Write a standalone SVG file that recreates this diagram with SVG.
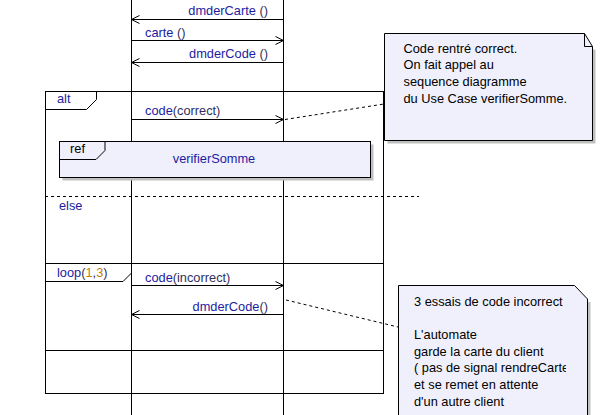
<svg xmlns="http://www.w3.org/2000/svg" width="611" height="415" viewBox="0 0 611 415">
<style>
text{font-family:"Liberation Sans",Arial,sans-serif;font-size:12.8px}
.n{fill:#1c1ca0}
.a{fill:#303060}
.o{fill:#c08000}
.k{fill:#000}
.ln{stroke:#000;stroke-width:1;fill:none}
.dash{stroke:#000;stroke-width:1;fill:none;stroke-dasharray:3,3}
.note{fill:#f0f0fc;stroke:#000;stroke-width:1}
.sh{fill:#c0c0c0}
</style>
<defs>
<marker id="ah" markerWidth="10" markerHeight="10" refX="9" refY="5" orient="auto" markerUnits="userSpaceOnUse">
<path d="M1,1 L9,5 L1,9" fill="none" stroke="#000" stroke-width="1"/>
</marker>
<clipPath id="c2"><rect x="398" y="285" width="168" height="130"/></clipPath>
</defs>
<rect width="611" height="415" fill="#fff"/>
<g id="lifelines">
<line class="ln" x1="131.5" y1="0" x2="131.5" y2="415"/>
<line class="ln" x1="283.5" y1="0" x2="283.5" y2="415"/>
</g>
<g id="alt">
<rect class="ln" x="45.5" y="91.5" width="338" height="302"/>
<path class="ln" d="M45.5,109.5 H86.5 L96.5,99.5 V91.5"/>
<text x="57" y="103" class="n">alt</text>
<path class="dash" d="M45,196.5 H419"/>
<text x="59" y="210" class="n">else</text>
</g>
<g id="ref">
<rect class="sh" x="62.5" y="144.5" width="311" height="36"/>
<rect class="note" x="59.5" y="141.5" width="311" height="36"/>
<path class="ln" d="M59.5,159.5 H96 L105,150.5 V141.5"/>
<text x="70" y="153" class="k">ref</text>
<text x="214" y="163" class="n" text-anchor="middle">verifierSomme</text>
</g>
<g id="loop">
<path class="ln" d="M45,263.5 H383.5 M45,350.5 H383.5"/>
<path class="ln" d="M45.5,281.5 H123 L131.5,273"/>
<text x="57" y="277"><tspan class="n">loop</tspan><tspan class="a">(</tspan><tspan class="o">1</tspan><tspan class="a">,</tspan><tspan class="o">3</tspan><tspan class="a">)</tspan></text>
</g>
<g id="note1">
<path class="sh" d="M387.5,143.5 V140.5 H592.5 V49.5 H595.5 V143.5 Z"/>
<path class="note" d="M384.5,33.5 H584.5 L592.5,46.5 V140.5 H384.5 Z"/>
<path class="ln" d="M584.5,33.5 V46.5 H592.5"/>
<text class="k" x="403.5"><tspan x="403.5" y="52.5">Code rentré correct.</tspan><tspan x="403.5" y="69.2">On fait appel au</tspan><tspan x="403.5" y="85.9">sequence diagramme</tspan><tspan x="403.5" y="102.6">du Use Case verifierSomme.</tspan></text>
</g>
<g id="note2">
<path class="sh" d="M587.5,302 H590.5 V415 H587.5 Z"/>
<path class="note" d="M398.5,285.5 H574.5 L587.5,299 V420 H398.5 Z"/>
<text class="k" clip-path="url(#c2)"><tspan x="414" y="305.5">3 essais de code incorrect</tspan><tspan x="414" y="339">L'automate</tspan><tspan x="414" y="355.7">garde la carte du client</tspan><tspan x="414" y="372.4">( pas de signal rendreCarte</tspan><tspan x="414" y="389.1">et se remet en attente</tspan><tspan x="414" y="405.8">d'un autre client</tspan></text>
</g>
<g id="connectors">
<line class="ln" x1="283.5" y1="19.5" x2="131.5" y2="19.5" marker-end="url(#ah)"/>
<line class="ln" x1="131.5" y1="40.5" x2="283.5" y2="40.5" marker-end="url(#ah)"/>
<line class="ln" x1="283.5" y1="62.5" x2="131.5" y2="62.5" marker-end="url(#ah)"/>
<line class="ln" x1="131.5" y1="119.5" x2="283.5" y2="119.5" marker-end="url(#ah)"/>
<line class="ln" x1="131.5" y1="285.5" x2="283.5" y2="285.5" marker-end="url(#ah)"/>
<line class="ln" x1="283.5" y1="314.5" x2="131.5" y2="314.5" marker-end="url(#ah)"/>
<line class="dash" x1="285" y1="119.5" x2="384" y2="104"/>
<line class="dash" x1="286" y1="300" x2="398" y2="327"/>
<text x="268" y="15" text-anchor="end"><tspan class="n">dmderCarte </tspan><tspan class="a">()</tspan></text>
<text x="145" y="36.5"><tspan class="n">carte </tspan><tspan class="a">()</tspan></text>
<text x="268" y="58" text-anchor="end"><tspan class="n">dmderCode </tspan><tspan class="a">()</tspan></text>
<text x="145" y="115"><tspan class="n">code</tspan><tspan class="a">(correct)</tspan></text>
<text x="145" y="281.5"><tspan class="n">code</tspan><tspan class="a">(incorrect)</tspan></text>
<text x="268" y="311" text-anchor="end"><tspan class="n">dmderCode</tspan><tspan class="a">()</tspan></text>
</g>
</svg>
